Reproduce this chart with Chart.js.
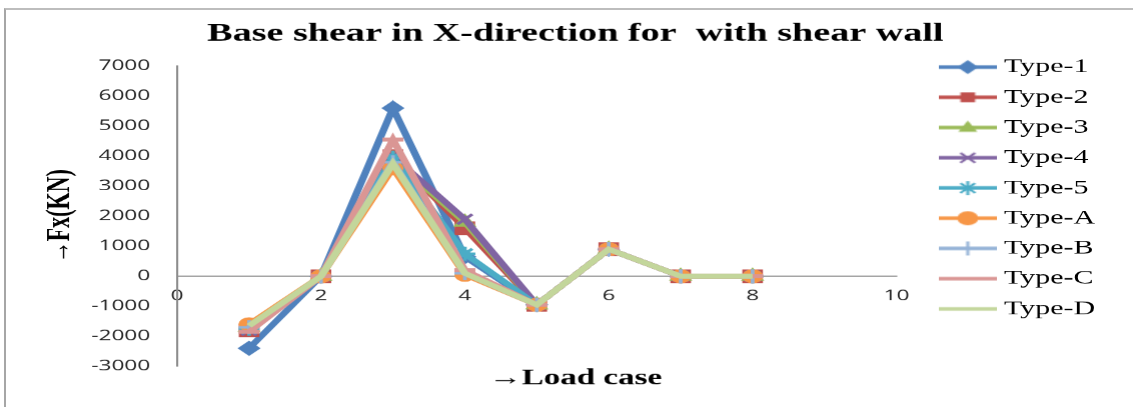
<!DOCTYPE html>
<html>
<head>
<meta charset="utf-8">
<script src="https://cdn.jsdelivr.net/npm/chart.js@4.4.1/dist/chart.umd.min.js"></script>
<style>
  html, body { margin: 0; padding: 0; background: #fff; width: 1133px; height: 407px; overflow: hidden; }
  #frame { position: absolute; left: 4px; top: 8px; width: 1300px; height: 600px; border-left: 2px solid #a6a6a6; border-top: 2px solid #bdbdbd; }
  #wrap { position: absolute; left: 0; top: 0; width: 755px; height: 407px; transform: scaleX(1.50066); transform-origin: 0 0; }
</style>
</head>
<body>
<div id="frame"></div>
<div id="wrap"><canvas id="c"></canvas></div>
<script>
// ---- data ----
const chartTitle = 'Base shear in X-direction for  with shear wall';
const xTitle = '\u2192Load case';
const yTitle = '\u2192Fx(KN)';
const loadCase = [1, 2, 3, 4, 5, 6, 7, 8];
const seriesNames = ['Type-1', 'Type-2', 'Type-3', 'Type-4', 'Type-5', 'Type-A', 'Type-B', 'Type-C', 'Type-D'];
const type1 = [-2400, 0, 5600, 650, -950, 900, 0, 0];
const type2 = [-1800, 0, 4000, 1600, -950, 900, 0, 0];
const type3 = [-1700, 0, 3900, 1800, -950, 900, 0, 0];
const type4 = [-1800, 0, 4000, 1900, -950, 900, 0, 0];
const type5 = [-1750, 0, 3950, 750, -950, 900, 0, 0];
const typeA = [-1600, 0, 3600, 50, -950, 900, 0, 0];
const typeB = [-1700, 0, 3800, 100, -950, 900, 0, 0];
const typeC = [-1850, 0, 4550, 200, -950, 900, 0, 0];
const typeD = [-1650, 0, 3750, 100, -950, 900, 0, 0];
const xTicks = { min: 0, max: 10, step: 2 };
const yTicks = { min: -3000, max: 7000, step: 1000 };

// ---- styles ----
const seriesValues = [type1, type2, type3, type4, type5, typeA, typeB, typeC, typeD];
const colors = ['#4F81BD', '#C0504D', '#9BBB59', '#8064A2', '#4BACC6', '#F79646', '#95B3D7', '#DA9694', '#C3D69B'];
const markers = ['rectRot', 'rect', 'triangle', 'crossRot', 'star', 'circle', 'cross', 'line', false];
const radii = [7, 9, 8, 7, 7, 6.5, 7, 7, 0];

const SERIF = "'Liberation Serif', 'Times New Roman', serif";
const SANS = "'Open Sans', 'Liberation Sans', sans-serif";

function drawMarker(g, style, x, y, r, color) {
  g.save();
  g.fillStyle = color; g.strokeStyle = color; g.lineWidth = 2;
  g.beginPath();
  switch (style) {
    case 'rectRot': g.moveTo(x, y - r); g.lineTo(x + r, y); g.lineTo(x, y + r); g.lineTo(x - r, y); g.closePath(); g.fill(); break;
    case 'rect': g.rect(x - r * 0.7, y - r * 0.7, r * 1.4, r * 1.4); g.fill(); break;
    case 'triangle': g.moveTo(x, y - r); g.lineTo(x + r * 0.9, y + r * 0.6); g.lineTo(x - r * 0.9, y + r * 0.6); g.closePath(); g.fill(); break;
    case 'crossRot': g.moveTo(x - r * 0.7, y - r * 0.7); g.lineTo(x + r * 0.7, y + r * 0.7); g.moveTo(x + r * 0.7, y - r * 0.7); g.lineTo(x - r * 0.7, y + r * 0.7); g.stroke(); break;
    case 'star': g.moveTo(x - r * 0.7, y - r * 0.7); g.lineTo(x + r * 0.7, y + r * 0.7); g.moveTo(x + r * 0.7, y - r * 0.7); g.lineTo(x - r * 0.7, y + r * 0.7); g.moveTo(x, y - r); g.lineTo(x, y + r); g.stroke(); break;
    case 'circle': g.arc(x, y, r, 0, Math.PI * 2); g.fill(); break;
    case 'cross': g.moveTo(x, y - r); g.lineTo(x, y + r); g.stroke(); break;
    default: break;
  }
  g.restore();
}

function legendImage(i) {
  const c = document.createElement('canvas');
  c.width = 39; c.height = 18;
  const g = c.getContext('2d');
  g.strokeStyle = colors[i]; g.lineWidth = 3.5;
  g.beginPath(); g.moveTo(0, 9); g.lineTo(39, 9); g.stroke();
  drawMarker(g, markers[i], 19.5, 9, 7, colors[i]);
  return c;
}
const legendImgs = seriesNames.map((_, i) => legendImage(i));

const datasets = seriesNames.map((name, i) => ({
  label: name,
  data: loadCase.map((x, k) => ({ x: x, y: seriesValues[i][k] })),
  showLine: true,
  borderColor: colors[i],
  backgroundColor: colors[i],
  borderWidth: 5,
  pointStyle: markers[i],
  pointRadius: radii[i],
  pointHoverRadius: radii[i],
  pointBackgroundColor: colors[i],
  pointBorderColor: colors[i],
  pointBorderWidth: markers[i] === 'line' ? 4 : (markers[i] === 'crossRot' || markers[i] === 'star' || markers[i] === 'cross' ? 2.5 : 1),
  order: seriesNames.length - 1 - i,
  tension: 0
}));

new Chart(document.getElementById('c'), {
  type: 'scatter',
  data: { datasets: datasets },
  options: {
    responsive: true,
    maintainAspectRatio: false,
    devicePixelRatio: 1.5,
    animation: false,
    events: [],
    layout: { padding: { left: 27.4, right: 16, top: 10, bottom: 5 } },
    scales: {
      x: {
        type: 'linear',
        position: { y: 0 },
        min: xTicks.min, max: xTicks.max,
        ticks: { stepSize: xTicks.step, autoSkip: false, padding: 11, color: '#222', font: { family: SANS, size: 15 },
                 callback: function (v) { return String(v); } },
        grid: { display: false, drawTicks: false },
        border: { display: true, color: '#8c8c8c', width: 1.2 }
      },
      y: {
        type: 'linear',
        position: 'left',
        min: yTicks.min, max: yTicks.max,
        ticks: { stepSize: yTicks.step, autoSkip: false, padding: 18, color: '#222', font: { family: SANS, size: 15 },
                 callback: function (v) { return String(v); } },
        grid: { display: false, drawTicks: false },
        border: { display: true, color: '#8c8c8c', width: 1.4 },
        title: { display: true, text: yTitle, color: '#000', font: { family: SERIF, size: 22, weight: 'bold', lineHeight: 1.1 }, padding: { top: 1.1, bottom: 8 } },
        afterFit: function (s) { s.width = 90.6; }
      },
      gap: {
        type: 'linear',
        position: 'right',
        display: true,
        ticks: { display: false },
        grid: { display: false, drawTicks: false },
        border: { display: false },
        afterFit: function (s) { s.width = 23.3; }
      }
    },
    plugins: {
      title: {
        display: true, text: chartTitle, color: '#000',
        font: { family: SERIF, size: 25.4, weight: 'bold', lineHeight: 1.1 },
        padding: { top: 10.3, bottom: 17.8 }
      },
      subtitle: {
        display: true, position: 'bottom', text: xTitle, color: '#000',
        font: { family: SERIF, size: 22, weight: 'bold', lineHeight: 1 },
        padding: { top: 1, bottom: 13 }
      },
      legend: {
        display: true, position: 'right', align: 'start', fullSize: true,
        title: { display: true, text: ' ', font: { size: 10 }, padding: { top: 24.8, bottom: 0 } },
        labels: {
          usePointStyle: true, pointStyleWidth: 28, padding: 10.2, color: '#000',
          font: { family: SERIF, size: 20 },
          generateLabels: function (chart) {
            return chart.data.datasets.map((ds, i) => ({
              text: ds.label, pointStyle: legendImgs[i], fillStyle: ds.borderColor,
              strokeStyle: ds.borderColor, lineWidth: 0, hidden: false, datasetIndex: i, fontColor: '#000'
            }));
          }
        }
      },
      tooltip: { enabled: false }
    }
  }
});
</script>
</body>
</html>
